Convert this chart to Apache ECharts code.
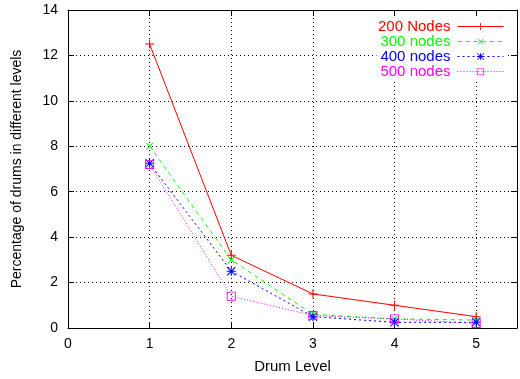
<!DOCTYPE html>
<html>
<head>
<meta charset="utf-8">
<script src="https://cdn.jsdelivr.net/npm/echarts@6/dist/echarts.min.js"></script>
<style>
  html, body { margin: 0; padding: 0; background: #fff; }
  #main { width: 520px; height: 379px; }
</style>
</head>
<body>
<div id="main"></div>
<script>
// data
var levels = [1, 2, 3, 4, 5];
var seriesNames = ['200 Nodes', '300 nodes', '400 nodes', '500 nodes'];
var nodes200 = [12.5, 3.2, 1.5, 1.0, 0.5];
var nodes300 = [8.0, 3.0, 0.6, 0.4, 0.35];
var nodes400 = [7.25, 2.5, 0.5, 0.25, 0.25];
var nodes500 = [7.2, 1.4, 0.55, 0.4, 0.2];
var yTicks = [0, 2, 4, 6, 8, 10, 12, 14];
var xTicks = [0, 1, 2, 3, 4, 5];

var font = 'Liberation Sans';
var colors = ['#ff0000', '#00ff00', '#0000ff', '#ff00ff'];
// gnuplot style markers
var plusPath = 'path://M4,0h1v4h4v1h-4v4h-1v-4h-4v-1h4z';
var starPath = 'path://M4,0h1v4h4v1h-4v4h-1v-4h-4v-1h4z M0,0.7L0.7,0L9,8.3L8.3,9z M8.3,0L9,0.7L0.7,9L0,8.3z';
var boxPath = 'path://M0,0h10v10h-10z M1,1v8h8v-8z';

function pairs(arr) {
  return levels.map(function (x, i) { return [x, arr[i]]; });
}

function line(name, arr, color, type, symbol, size, rotate) {
  return {
    name: name,
    type: 'line',
    data: pairs(arr),
    symbol: symbol,
    symbolSize: size,
    symbolRotate: rotate || 0,
    showAllSymbol: true,
    lineStyle: { color: color, width: 1, type: type },
    itemStyle: { color: color },
    emphasis: { disabled: true },
    z: 3
  };
}

// one legend per series so the icons line up on the right
function legend(i, top) {
  return {
    data: [seriesNames[i]],
    right: 14,
    top: top,
    align: 'right',
    itemWidth: 46,
    itemHeight: 9,
    itemGap: 0,
    padding: [1, 2, 1, 4],
    backgroundColor: '#fff',
    lineStyle: { width: 1 },
    textStyle: { fontFamily: font, fontSize: 15, color: colors[i], padding: [0, 2, 0, 0] },
    selectedMode: false
  };
}

var mychart = echarts.init(document.getElementById('main'), null, { renderer: 'canvas' });
var axisText = { fontFamily: font, fontSize: 14, color: '#000' };
var option = {
  animation: false,
  backgroundColor: '#fff',
  grid: { left: 68, right: 1, top: 10, bottom: 51 },
  legend: [legend(0, 18), legend(1, 33), legend(2, 48), legend(3, 63)],
  xAxis: [{
    type: 'value',
    min: 0,
    max: 5.5,
    interval: 1,
    name: 'Drum Level',
    nameLocation: 'middle',
    nameGap: 31,
    nameTextStyle: { fontFamily: font, fontSize: 15, color: '#000' },
    axisLine: { show: true, onZero: false, lineStyle: { color: '#000', width: 1 } },
    axisTick: { show: true, inside: true, length: 6, lineStyle: { color: '#000' } },
    axisLabel: Object.assign({ margin: 9, formatter: function (v) { return xTicks.indexOf(v) >= 0 ? v : ''; } }, axisText),
    splitLine: { show: true, lineStyle: { color: '#000', type: [1, 3], width: 1 } }
  }, {
    // mirror axis on top
    type: 'value',
    position: 'top',
    min: 0,
    max: 5.5,
    interval: 1,
    axisLine: { show: true, onZero: false, lineStyle: { color: '#000', width: 1 } },
    axisTick: { show: true, inside: true, length: 6, lineStyle: { color: '#000' } },
    axisLabel: { show: false },
    splitLine: { show: false }
  }],
  yAxis: [{
    type: 'value',
    min: 0,
    max: 14,
    interval: 2,
    name: 'Percentage of drums in different levels',
    nameLocation: 'middle',
    nameGap: 44,
    nameTextStyle: axisText,
    axisLine: { show: true, onZero: false, lineStyle: { color: '#000', width: 1 } },
    axisTick: { show: true, inside: true, length: 6, lineStyle: { color: '#000' } },
    axisLabel: Object.assign({ margin: 10, formatter: function (v) { return yTicks.indexOf(v) >= 0 ? v : ''; } }, axisText),
    splitLine: { show: true, lineStyle: { color: '#000', type: [1, 3], width: 1 } }
  }, {
    // mirror axis on the right
    type: 'value',
    position: 'right',
    min: 0,
    max: 14,
    interval: 2,
    axisLine: { show: true, onZero: false, lineStyle: { color: '#000', width: 1 } },
    axisTick: { show: true, inside: true, length: 6, lineStyle: { color: '#000' } },
    axisLabel: { show: false },
    splitLine: { show: false }
  }],
  series: [
    line(seriesNames[0], nodes200, colors[0], 'solid', plusPath, 9),
    line(seriesNames[1], nodes300, colors[1], [4, 4], plusPath, 9, 45),
    line(seriesNames[2], nodes400, colors[2], [2, 3], starPath, 9),
    line(seriesNames[3], nodes500, colors[3], [1, 2], boxPath, 9)
  ]
};
mychart.setOption(option);
</script>
</body>
</html>
